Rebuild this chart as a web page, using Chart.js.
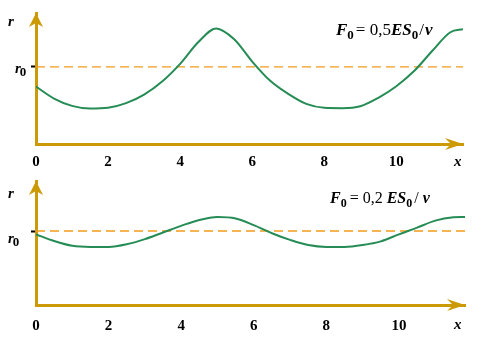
<!DOCTYPE html>
<html>
<head>
<meta charset="utf-8">
<script src="https://cdn.jsdelivr.net/npm/chart.js@4/dist/chart.umd.min.js"></script>
<style>
  body { margin: 0; background: #fff; }
  .panel { position: absolute; left: 0; width: 489px; height: 170px; }
</style>
</head>
<body>
<div class="panel" style="top:0"><canvas id="topChart" width="489" height="170"></canvas></div>
<div class="panel" style="top:170px"><canvas id="bottomChart" width="489" height="170"></canvas></div>
<script>
// values, r in units of r0
const xTicks = [0, 2, 4, 6, 8, 10];
const r0 = 1;

const xTop = [0, 0.5, 1, 1.5, 2, 2.5, 3, 3.5, 4, 4.5, 5, 5.5, 6, 6.5, 7, 7.5, 8, 8.5, 9, 9.5, 10, 10.5, 11, 11.5, 11.85];
const rTop = [0.745, 0.59, 0.495, 0.46, 0.47, 0.53, 0.64, 0.81, 1.04, 1.32, 1.5, 1.36, 1.07, 0.82, 0.65, 0.52, 0.47, 0.465, 0.49, 0.6, 0.75, 0.95, 1.21, 1.45, 1.49];

const xBottom = [0, 0.5, 1, 1.5, 2, 2.5, 3, 3.5, 4, 4.5, 5, 5.5, 6, 6.5, 7, 7.5, 8, 8.5, 9, 9.5, 10, 10.5, 11, 11.5, 11.82];
const rBottom = [0.955, 0.865, 0.8, 0.785, 0.785, 0.82, 0.89, 0.98, 1.07, 1.15, 1.19, 1.17, 1.08, 0.97, 0.88, 0.81, 0.785, 0.785, 0.81, 0.86, 0.955, 1.045, 1.14, 1.185, 1.19];

const GOLD = '#cc9a06';
const GREEN = '#268c55';
const ORANGE = '#f29b1d';

function drawRich(ctx, x, y, parts) {
  parts.forEach(p => {
    ctx.font = p[1];
    ctx.fillText(p[0], x, y + (p[2] || 0));
    x += ctx.measureText(p[0]).width + (p[3] || 0);
  });
}

function makeChart(id, xs, rs, o) {
  const labelsPlugin = {
    id: 'labels',
    beforeDraw(chart) {
      // tick marks sit on top of the axis line, so grid items are needed before the border is drawn
      ['x', 'y'].forEach(k => {
        const s = chart.scales[k];
        s._gridLineItems = s._computeGridLineItems(chart.chartArea);
      });
    },
    afterDraw(chart) {
      const ctx = chart.ctx;
      const xs_ = chart.scales.x, ys_ = chart.scales.y;
      const x0 = xs_.getPixelForValue(0), xe = xs_.getPixelForValue(o.xMax);
      const yb = ys_.getPixelForValue(0), yt = ys_.getPixelForValue(o.yMax);
      ctx.save();
      ctx.fillStyle = GOLD;
      // arrow on r axis
      ctx.beginPath();
      ctx.moveTo(x0, yt);
      ctx.lineTo(x0 - 7, yt + 14);
      ctx.lineTo(x0, yt + 10);
      ctx.lineTo(x0 + 7, yt + 14);
      ctx.closePath();
      ctx.fill();
      // arrow on x axis
      ctx.beginPath();
      ctx.moveTo(xe, yb);
      ctx.lineTo(xe - 18, yb - 6);
      ctx.lineTo(xe - 12, yb);
      ctx.lineTo(xe - 18, yb + 6);
      ctx.closePath();
      ctx.fill();

      ctx.fillStyle = '#000';
      ctx.textBaseline = 'alphabetic';
      ctx.textAlign = 'left';
      drawRich(ctx, o.rLab[0], o.rLab[1], [['r', 'italic bold 15px "Liberation Serif"']]);
      drawRich(ctx, o.r0Lab[0], o.r0Lab[1], [['r', 'italic bold 15px "Liberation Serif"', 0, -1], ['0', 'bold 13px "Liberation Serif"', 3]]);
      drawRich(ctx, o.xLab[0], o.xLab[1], [['x', 'italic bold 15px "Liberation Serif"']]);
      drawRich(ctx, o.fLab[0], o.fLab[1], o.formula);
      ctx.restore();
    }
  };

  return new Chart(document.getElementById(id), {
    type: 'line',
    data: {
      datasets: [
        {
          data: xs.map((x, i) => ({ x: x, y: rs[i] })),
          borderColor: GREEN,
          borderWidth: 2,
          pointRadius: 0,
          cubicInterpolationMode: 'monotone',
          fill: false
        },
        {
          data: [{ x: 0, y: r0 }, { x: o.xMax, y: r0 }],
          borderColor: ORANGE,
          borderWidth: 1.3,
          borderDash: [9, 5],
          pointRadius: 0,
          fill: false
        }
      ]
    },
    options: {
      responsive: false,
      animation: false,
      events: [],
      layout: { padding: { top: o.padTop, right: o.padRight, left: 0, bottom: 0 } },
      plugins: { legend: { display: false }, tooltip: { enabled: false } },
      scales: {
        x: {
          type: 'linear',
          min: 0,
          max: o.xMax,
          afterBuildTicks: s => { s.ticks = xTicks.map(v => ({ value: v })); },
          afterFit: s => { s.height = o.axisH; },
          ticks: {
            color: '#000',
            padding: o.tickPad,
            maxRotation: 0,
            font: { family: '"Liberation Serif"', size: 15, weight: 'bold' }
          },
          grid: { drawOnChartArea: false, tickLength: 2, tickWidth: 3, tickColor: '#000', z: 1 },
          border: { color: GOLD, width: 3 }
        },
        y: {
          type: 'linear',
          min: 0,
          max: o.yMax,
          afterBuildTicks: s => { s.ticks = [{ value: r0 }]; },
          afterFit: s => { s.width = 36; },
          ticks: { display: false },
          grid: { drawOnChartArea: false, tickLength: 5, tickWidth: 2, tickColor: '#000', z: 1 },
          border: { color: GOLD, width: 3 }
        }
      }
    },
    plugins: [labelsPlugin]
  });
}

makeChart('topChart', xTop, rTop, {
  xMax: 11.85, yMax: 1.70, padTop: 13, padRight: 26, axisH: 26, tickPad: 7,
  rLab: [8, 26], r0Lab: [15, 73], xLab: [454, 166], fLab: [336, 35],
  formula: [
    ['F', 'italic bold 17px "Liberation Serif"'],
    ['0', 'bold 13px "Liberation Serif"', 4, 2],
    ['= 0,5', '17px "Liberation Serif"'],
    ['ES', 'italic bold 17px "Liberation Serif"'],
    ['0', 'bold 13px "Liberation Serif"', 4, 1],
    ['/', '17px "Liberation Serif"', 0, 1],
    ['\u03bd', 'italic bold 17px "Liberation Serif"']
  ]
});

makeChart('bottomChart', xBottom, rBottom, {
  xMax: 11.82, yMax: 1.676, padTop: 11, padRight: 24, axisH: 35, tickPad: 10,
  rLab: [8, 28], r0Lab: [8, 73], xLab: [454, 159], fLab: [330, 33],
  formula: [
    ['F', 'italic bold 16px "Liberation Serif"'],
    ['0', 'bold 12px "Liberation Serif"', 4, 3],
    ['= 0,2 ', '16px "Liberation Serif"'],
    ['ES', 'italic bold 16px "Liberation Serif"'],
    ['0', 'bold 12px "Liberation Serif"', 4, 2],
    ['/ ', '16px "Liberation Serif"'],
    ['\u03bd', 'italic bold 16px "Liberation Serif"']
  ]
});
</script>
</body>
</html>
